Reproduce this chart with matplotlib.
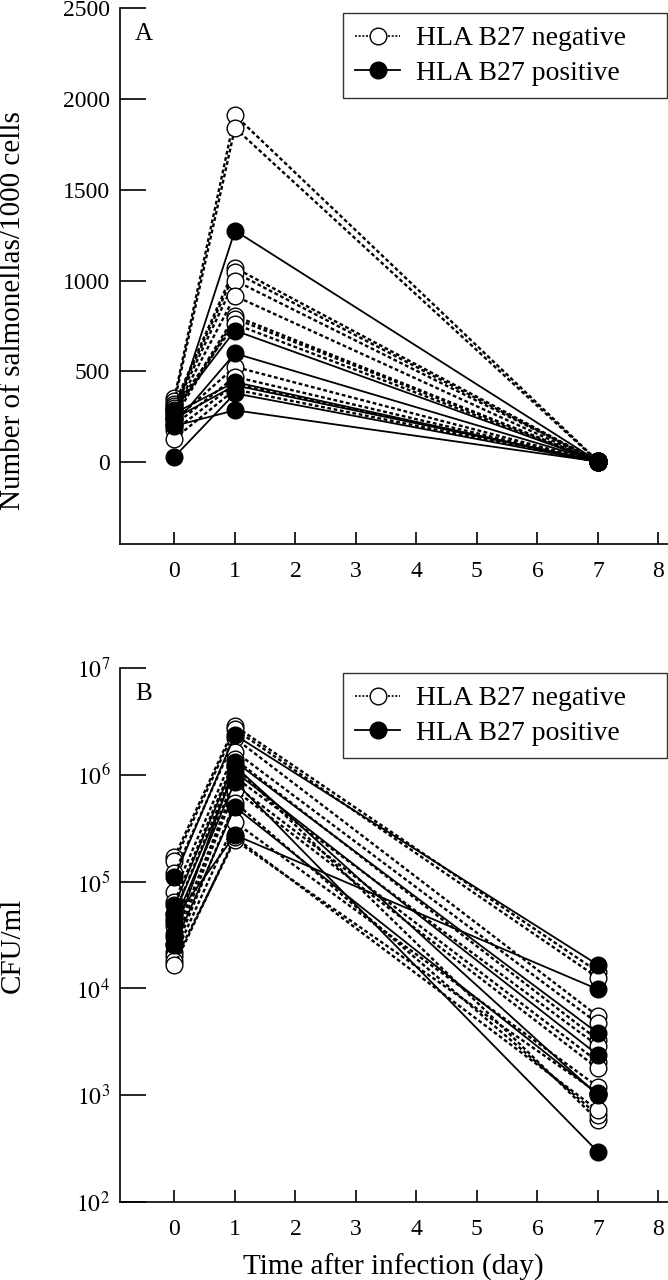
import numpy as np
import matplotlib
matplotlib.use("Agg")
from matplotlib import pyplot as plt
from matplotlib.lines import Line2D

plt.rcParams['font.family'] = ['Liberation Serif', 'DejaVu Serif']
plt.rcParams['mathtext.fontset'] = 'stix'

days = [0, 1, 7]

#panel A - salmonellas per 1000 cells, one row per patient (day 0, day 1, day 7)
neg_a_d0 = [355, 335, 320, 310, 295, 280, 265, 245, 230, 205, 175, 130, 300]
neg_a_d1 = [1910, 1840, 1070, 1045, 1000, 915, 805, 790, 525, 470, 430, 400, 760]
neg_a_d7 = [6, 4, 5, 3, 7, 4, 5, 6, 3, 4, 5, 2, 4]

pos_a_d0 = [250, 290, 210, 270, 240, 200, 30]
pos_a_d1 = [1275, 725, 599, 441, 423, 286, 379]
pos_a_d7 = [5, 4, 6, 3, 5, 4, 2]

#panel B - CFU/ml
neg_b_d0 = [1.7e5, 1.55e5, 1.2e5, 8.0e4, 6.5e4, 5.0e4, 3.8e4, 3.0e4, 2.6e4, 2.2e4, 2.0e4, 1.8e4, 1.65e4]
neg_b_d1 = [2.86e6, 2.67e6, 2.2e6, 1.65e6, 1.4e6, 1.2e6, 9.5e5, 8.0e5, 7.2e5, 5.5e5, 3.6e5, 2.45e5, 2.6e5]
neg_b_d7 = [1.43e4, 1.26e4, 5.5e3, 4.7e3, 3.3e3, 583, 2.9e3, 2.06e3, 1.78e3, 650, 1.2e3, 1.05e3, 724]

pos_b_d0 = [1.1e5, 6.0e4, 5.0e4, 4.2e4, 2.55e4, 4.5e4, 3.2e4]
pos_b_d1 = [2.36e6, 1.33e6, 1.07e6, 8.6e5, 5.0e5, 2.73e5, 1.2e6]
pos_b_d7 = [1.66e4, 3.8e3, 2.38e3, 295, 1.02e3, 9.8e3, 1.0e3]

legend_labels = ["HLA B27 negative    ", "HLA B27 positive"]

neg_style = dict(color="black", linestyle=(0, (1.6, 1.1)), linewidth=1.7, marker="o",
                 markersize=12, markerfacecolor="white", markeredgecolor="black", markeredgewidth=1.0)
pos_style = dict(color="black", linestyle="-", linewidth=1.3, marker="o",
                 markersize=12, markerfacecolor="black", markeredgecolor="black", markeredgewidth=1.0)


def draw_panel(ax, neg, pos, letter):
    for row in zip(*neg):
        ax.plot(days, row, **neg_style)
    for row in zip(*pos):
        ax.plot(days, row, **pos_style)

    ax.set_xlim(-0.9, 8.15)
    ax.set_xticks(range(0, 9))
    ax.spines['top'].set_visible(False)
    ax.spines['right'].set_visible(False)
    ax.spines['left'].set_linewidth(1.2)
    ax.spines['bottom'].set_linewidth(1.2)
    ax.tick_params(axis='x', direction='in', length=9, width=1.2, labelsize=17, pad=12)
    ax.tick_params(axis='y', direction='in', length=19, width=1.2, labelsize=17, pad=7)
    ax.tick_params(axis='y', which='minor', length=0)
    ax.text(0.027, 0.952, letter, transform=ax.transAxes, fontsize=18, va='center', ha='left')

    handles = [Line2D([0], [0], linestyle=(0, (1.2, 1.0)), linewidth=1.2, color="black", marker="o",
                      markersize=12, markerfacecolor="white", markeredgecolor="black"),
               Line2D([0], [0], linestyle="-", linewidth=1.3, color="black", marker="o",
                      markersize=12, markerfacecolor="black", markeredgecolor="black")]
    leg = ax.legend(handles, legend_labels, loc="upper right", bbox_to_anchor=(0.999, 0.99),
                    borderaxespad=0, fontsize=20, frameon=True, fancybox=False,
                    handlelength=1.6, handletextpad=0.6, borderpad=0.45, labelspacing=0.32)
    leg.get_frame().set_edgecolor("black")
    leg.get_frame().set_linewidth(1.0)


fig = plt.figure(figsize=(6.68, 12.8), dpi=100)

ax_a = fig.add_axes([120/668, 1 - 544/1280, 547.5/668, 536/1280])
draw_panel(ax_a, (neg_a_d0, neg_a_d1, neg_a_d7), (pos_a_d0, pos_a_d1, pos_a_d7), "A")
ax_a.set_ylim(-450, 2500)
ax_a.set_yticks([0, 500, 1000, 1500, 2000, 2500])
ax_a.set_ylabel("Number of salmonellas/1000 cells", fontsize=21)
ax_a.yaxis.set_label_coords(-0.172, 0.435)

ax_b = fig.add_axes([120/668, 1 - 1202/1280, 547.5/668, 534/1280])
draw_panel(ax_b, (neg_b_d0, neg_b_d1, neg_b_d7), (pos_b_d0, pos_b_d1, pos_b_d7), "B")
ax_b.set_yscale("log")
ax_b.set_ylim(1e2, 1e7)
ax_b.set_yticks([1e2, 1e3, 1e4, 1e5, 1e6, 1e7])
ax_b.set_yticklabels([r"$10^{%d}$" % p for p in range(2, 8)])
ax_b.set_ylabel("CFU/ml", fontsize=21)
ax_b.yaxis.set_label_coords(-0.172, 0.48)
ax_b.set_xlabel("Time after infection (day)", fontsize=21, labelpad=10)

fig.savefig("out.png", dpi=100)
